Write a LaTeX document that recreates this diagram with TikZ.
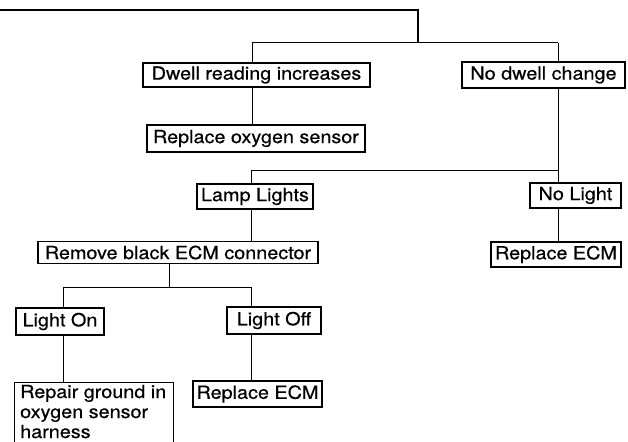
\documentclass[tikz,border=0pt]{standalone}
\usepackage{fontspec}
\setmainfont{TeX Gyre Heros}[FakeStretch=1.1,FakeBold=0.5]
\begin{document}
\begin{tikzpicture}[x=1pt,y=-1pt,
  txt/.style={font=\fontsize{18}{20}\selectfont},
  box/.style={draw,line width=1.1pt,inner sep=0pt,txt},
  conn/.style={line width=1pt}]
\clip (0,0) rectangle (628,441);
\fill[white] (0,0) rectangle (628,441);
% boxes: centers from measured extents
\node[box,minimum width=227pt,minimum height=24pt] (dwell) at (256.5,75) {Dwell reading increases};
\node[box,minimum width=163pt,minimum height=26pt] (nodwell) at (543.5,75) {No dwell change};
\node[box,minimum width=218pt,minimum height=27pt] (repox) at (256,138.5) {Replace oxygen sensor};
\node[box,minimum width=116pt,minimum height=25pt] (lamp) at (255,196.5) {Lamp Lights};
\node[box,minimum width=91pt,minimum height=25pt] (nolight) at (575.5,195.5) {No Light};
\node[box,minimum width=280pt,minimum height=22pt] (remove) at (178,252.5) {Remove black ECM connector};
\node[box,minimum width=130pt,minimum height=25pt] (replR) at (556,254.5) {Replace ECM};
\node[box,minimum width=88pt,minimum height=27pt] (lighton) at (60,321.5) {Light On};
\node[box,minimum width=94pt,minimum height=27pt] (lightoff) at (274,320.5) {Light Off};
\node[box,minimum width=129pt,minimum height=26pt] (replB) at (257.5,394) {Replace ECM};
\node[box,anchor=north west,minimum width=159pt,minimum height=100pt] (repairbox) at (14,382) {};
\node[txt,anchor=base west,inner sep=0pt,align=left] (repair) at (20,438) {Repair ground in\\oxygen sensor\\harness};
% junction coordinates
\coordinate (start) at (0,10);
\coordinate (top) at (418,10);
\coordinate (ja) at (252,43);
\coordinate (jb) at (558,43);
\coordinate (jt) at (418,43);
\coordinate (jc) at (558,170);
\coordinate (jd) at (251,170);
\coordinate (je) at (169,287);
\coordinate (jf) at (63,287);
\coordinate (jg) at (251,287);
% connectors
\draw[line width=2pt] (start) -- (top) -- (jt);
\draw[conn] (ja) -- (jb);
\draw[conn] (ja) -- (ja |- dwell.north);
\draw[conn] (jb) -- (jb |- nodwell.north);
\draw[conn] (ja |- dwell.south) -- (ja |- repox.north);
\draw[conn] (jb |- nodwell.south) -- (jc) -- (jd) -- (jd |- lamp.north);
\draw[conn] (jc) -- (jc |- nolight.north);
\draw[conn] (jc |- nolight.south) -- (jc |- replR.north);
\draw[conn] (jd |- lamp.south) -- (jd |- remove.north);
\draw[conn] (je |- remove.south) -- (je);
\draw[conn] (jf |- lighton.north) -- (jf) -- (jg) -- (jg |- lightoff.north);
\draw[conn] (jf |- lighton.south) -- (jf |- repairbox.north);
\draw[conn] (jg |- lightoff.south) -- (jg |- replB.north);
\end{tikzpicture}
\end{document}
